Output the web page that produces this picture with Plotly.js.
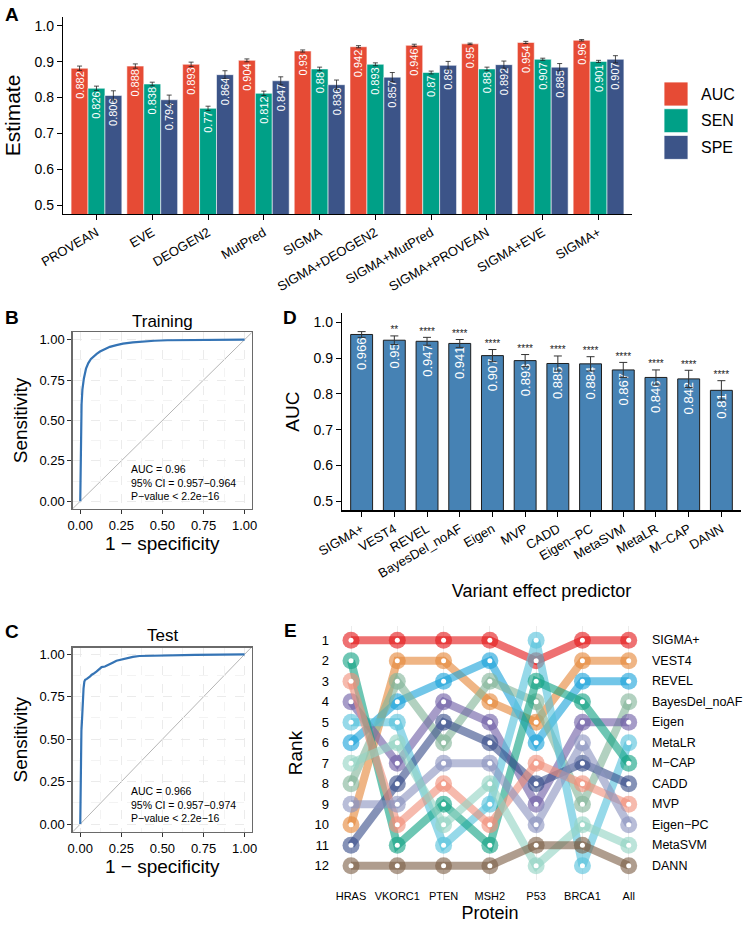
<!DOCTYPE html>
<html>
<head>
<meta charset="utf-8">
<script src="https://cdn.plot.ly/plotly-3.0.1.min.js"></script>
<style>
  body { margin: 0; background: #fff; }
  #fig { width: 747px; height: 927px; }
</style>
</head>
<body>
<div id="fig"></div>
<script>
// ---- panel A: combined predictors ----
const methodsA = ["PROVEAN", "EVE", "DEOGEN2", "MutPred", "SIGMA", "SIGMA+DEOGEN2", "SIGMA+MutPred", "SIGMA+PROVEAN", "SIGMA+EVE", "SIGMA+"]
const metricNames = ["AUC", "SEN", "SPE"]
const metricColors = ["#E64B35", "#00A087", "#3C5488"]
const aucA = [0.882, 0.888, 0.893, 0.904, 0.93, 0.942, 0.946, 0.95, 0.954, 0.96]
const senA = [0.826, 0.838, 0.77, 0.812, 0.88, 0.893, 0.87, 0.88, 0.907, 0.901]
const speA = [0.806, 0.794, 0.864, 0.847, 0.836, 0.857, 0.89, 0.892, 0.885, 0.907]
const aucErrA = [0.006, 0.006, 0.006, 0.004, 0.003, 0.003, 0.003, 0.002, 0.003, 0.002]
const senErrA = [0.006, 0.005, 0.006, 0.006, 0.005, 0.004, 0.004, 0.005, 0.003, 0.003]
const speErrA = [0.013, 0.013, 0.011, 0.011, 0.013, 0.013, 0.011, 0.01, 0.01, 0.01]

// ---- panels B, C: ROC curves ----
const trainFpr = [0, 0.002, 0.005, 0.008, 0.013, 0.022, 0.035, 0.049, 0.065, 0.079, 0.1, 0.12, 0.15, 0.18, 0.22, 0.26, 0.32, 0.38, 0.45, 0.53, 0.65, 0.8, 1]
const trainTpr = [0, 0.2, 0.42, 0.6, 0.69, 0.76, 0.82, 0.855, 0.88, 0.895, 0.912, 0.926, 0.942, 0.955, 0.966, 0.975, 0.983, 0.989, 0.993, 0.996, 0.998, 0.999, 1]
const testFpr = [0, 0.001, 0.003, 0.004, 0.007, 0.01, 0.013, 0.016, 0.02, 0.025, 0.03, 0.04, 0.05, 0.06, 0.07, 0.08, 0.1, 0.12, 0.13, 0.15, 0.18, 0.2, 0.22, 0.25, 0.28, 0.32, 0.36, 0.45, 0.53, 0.7, 1]
const testTpr = [0, 0.2, 0.38, 0.45, 0.55, 0.6, 0.7, 0.75, 0.8, 0.84, 0.85, 0.855, 0.86, 0.87, 0.88, 0.885, 0.9, 0.915, 0.925, 0.928, 0.94, 0.952, 0.962, 0.97, 0.978, 0.985, 0.99, 0.993, 0.995, 0.997, 1]
const trainStats = "AUC = 0.96<br>95% CI = 0.957−0.964<br>P−value < 2.2e−16"
const testStats = "AUC = 0.966<br>95% CI = 0.957−0.974<br>P−value < 2.2e−16"

// ---- panel D: AUC of predictors ----
const predictorsD = ["SIGMA+", "VEST4", "REVEL", "BayesDel_noAF", "Eigen", "MVP", "CADD", "Eigen−PC", "MetaSVM", "MetaLR", "M−CAP", "DANN"]
const aucD = [0.966, 0.95, 0.947, 0.941, 0.907, 0.893, 0.885, 0.884, 0.867, 0.846, 0.842, 0.81]
const aucErrD = [0.008, 0.012, 0.011, 0.011, 0.017, 0.017, 0.021, 0.02, 0.021, 0.021, 0.024, 0.027]
const starsD = ["", "**", "****", "****", "****", "****", "****", "****", "****", "****", "****", "****"]

// ---- panel E: ranks per protein ----
const proteins = ["HRAS", "VKORC1", "PTEN", "MSH2", "P53", "BRCA1", "All"]
const predictorsE = ["SIGMA+", "VEST4", "REVEL", "BayesDel_noAF", "Eigen", "MetaLR", "M−CAP", "CADD", "MVP", "Eigen−PC", "MetaSVM", "DANN"]
const colorsE = ["227,26,28", "229,136,58", "27,163,218", "131,181,154", "111,95,166", "86,193,219", "19,163,132", "58,79,139", "240,144,122", "140,149,192", "147,211,195", "126,97,72"]
const ranksE = [
  [1, 1, 1, 1, 2, 1, 1],
  [10, 2, 2, 4, 5, 2, 2],
  [6, 4, 3, 2, 6, 3, 3],
  [8, 3, 6, 3, 4, 9, 4],
  [4, 7, 4, 5, 9, 5, 5],
  [5, 5, 11, 9, 1, 12, 6],
  [2, 11, 9, 11, 3, 4, 7],
  [11, 8, 5, 6, 8, 7, 8],
  [3, 10, 8, 10, 7, 8, 9],
  [9, 9, 7, 7, 10, 6, 10],
  [7, 6, 10, 8, 12, 10, 11],
  [12, 12, 12, 12, 11, 11, 12],
]

const FONT = "Liberation Sans, Arial, Helvetica, sans-serif"
const W = 747
const H = 927
const px = (x) => x / W
const py = (y) => 1 - y / H

const data = []

// A
const seriesA = [aucA, senA, speA]
const errA = [aucErrA, senErrA, speErrA]
seriesA.forEach((vals, i) => {
  data.push({
    type: "bar",
    x: methodsA,
    y: vals,
    name: metricNames[i],
    xaxis: "x",
    yaxis: "y",
    marker: { color: metricColors[i], line: { color: "rgba(255,255,255,0.7)", width: 0.8 } },
    text: vals.map(String),
    textposition: "inside",
    insidetextanchor: "end",
    textangle: -90,
    textfont: { color: "#ffffff", size: 11, family: FONT },
    constraintext: "none",
    error_y: { type: "data", array: errA[i], color: "#222", thickness: 0.8, width: 2.5 },
    hoverinfo: "skip",
  })
})

// B, C
const rocs = [
  [trainFpr, trainTpr, "x2", "y2"],
  [testFpr, testTpr, "x3", "y3"],
]
rocs.forEach(([fx, ty, xa, ya]) => {
  data.push({
    type: "scatter",
    mode: "lines",
    x: fx,
    y: ty,
    xaxis: xa,
    yaxis: ya,
    line: { color: "#3574B5", width: 2.2, shape: "linear" },
    hoverinfo: "skip",
  })
})

// D
data.push({
  type: "bar",
  x: predictorsD,
  y: aucD,
  xaxis: "x4",
  yaxis: "y4",
  width: 0.67,
  marker: { color: "#4682B4", line: { color: "#1e1e1e", width: 1 } },
  text: aucD.map(String),
  textposition: "inside",
  insidetextanchor: "end",
  textangle: -90,
  textfont: { color: "#ffffff", size: 13, family: FONT },
  constraintext: "none",
  error_y: { type: "data", array: aucErrD, color: "#333", thickness: 1, width: 4 },
  hoverinfo: "skip",
})
data.push({
  type: "scatter",
  mode: "text",
  x: predictorsD,
  y: aucD.map((v, i) => v + aucErrD[i] + 0.014),
  text: starsD,
  textposition: "middle center",
  textfont: { size: 10, family: FONT, color: "#222" },
  xaxis: "x4",
  yaxis: "y4",
  hoverinfo: "skip",
})

// E
ranksE.forEach((r, i) => {
  data.push({
    type: "scatter",
    mode: "lines+markers",
    x: proteins,
    y: r,
    name: predictorsE[i],
    xaxis: "x5",
    yaxis: "y5",
    line: { color: `rgba(${colorsE[i]},0.62)`, width: 8 },
    marker: { color: `rgba(${colorsE[i]},0.62)`, size: 17, line: { width: 0 } },
    hoverinfo: "skip",
  })
})
data.push({
  type: "scatter",
  mode: "markers",
  x: ranksE.flatMap(() => proteins),
  y: ranksE.flat(),
  xaxis: "x5",
  yaxis: "y5",
  marker: { color: "#ffffff", size: 5 },
  hoverinfo: "skip",
})

const blackAxis = {
  showline: true,
  linecolor: "#000",
  linewidth: 1.2,
  ticks: "outside",
  ticklen: 5,
  tickcolor: "#000",
  showgrid: false,
  zeroline: false,
}
const rocAxis = {
  showline: true,
  mirror: true,
  linecolor: "#6a6a6a",
  linewidth: 1.4,
  ticks: "outside",
  ticklen: 4,
  tickcolor: "#333",
  tickvals: [0, 0.25, 0.5, 0.75, 1],
  tickformat: ".2f",
  tickfont: { size: 13 },
  showgrid: true,
  gridcolor: "#e6e6e6",
  griddash: "dash",
  gridwidth: 0.8,
  minor: { tickvals: [0.125, 0.375, 0.625, 0.875], showgrid: true, gridcolor: "#f0f0f0", griddash: "dash", ticks: "" },
  zeroline: false,
}

const paperText = (text, x, y, size, extra = {}) => ({
  text,
  xref: "paper",
  yref: "paper",
  x: px(x),
  y: py(y),
  xanchor: "center",
  yanchor: "middle",
  showarrow: false,
  font: { size },
  ...extra,
})

const layout = {
  width: W,
  height: H,
  margin: { l: 0, r: 0, t: 0, b: 0 },
  paper_bgcolor: "#fff",
  plot_bgcolor: "#fff",
  showlegend: false,
  font: { family: FONT, color: "#000" },
  barmode: "group",
  bargap: 0.09,
  bargroupgap: 0,
  xaxis: { ...blackAxis, domain: [px(63), px(632)], range: [-0.6, 9.6], tickangle: -30, tickfont: { size: 13 }, anchor: "y" },
  yaxis: {
    ...blackAxis,
    domain: [py(214), py(17)],
    range: [0.475, 1.025],
    dtick: 0.1,
    tickformat: ".1f",
    tickfont: { size: 14 },
    title: { text: "Estimate", font: { size: 21 }, standoff: 8 },
    anchor: "x",
  },
  xaxis2: { ...rocAxis, domain: [px(72.7), px(251.7)], range: [-0.046, 1.043], anchor: "y2", title: { text: "1 − specificity", font: { size: 19 }, standoff: 2 } },
  yaxis2: { ...rocAxis, domain: [py(509), py(332)], range: [-0.048, 1.047], anchor: "x2", title: { text: "Sensitivity", font: { size: 19 }, standoff: 6 } },
  xaxis3: { ...rocAxis, domain: [px(72.7), px(251.7)], range: [-0.046, 1.043], anchor: "y3", title: { text: "1 − specificity", font: { size: 19 }, standoff: 2 } },
  yaxis3: { ...rocAxis, domain: [py(831.7), py(647.7)], range: [-0.045, 1.039], anchor: "x3", title: { text: "Sensitivity", font: { size: 19 }, standoff: 6 } },
  xaxis4: {
    ...blackAxis,
    domain: [px(342), px(741)],
    range: [-0.6, 11.6],
    tickangle: -30,
    tickfont: { size: 13 },
    anchor: "y4",
    title: { text: "Variant effect predictor", font: { size: 18 }, standoff: 0 },
  },
  yaxis4: {
    ...blackAxis,
    domain: [py(510.3), py(313)],
    range: [0.475, 1.026],
    dtick: 0.1,
    tickformat: ".1f",
    tickfont: { size: 14 },
    anchor: "x4",
    title: { text: "AUC", font: { size: 19 }, standoff: 8 },
  },
  xaxis5: {
    domain: [px(330), px(650)],
    range: [-0.454, 6.46],
    anchor: "y5",
    showline: false,
    zeroline: false,
    showgrid: true,
    gridcolor: "#ececec",
    gridwidth: 1,
    ticks: "",
    ticklabelstandoff: 8,
    tickfont: { size: 11 },
    title: { text: "Protein", font: { size: 18 }, standoff: 5 },
  },
  yaxis5: {
    domain: [py(880), py(626)],
    range: [12.7, 0.3],
    anchor: "x5",
    showline: false,
    zeroline: false,
    showgrid: false,
    ticks: "",
    tickvals: predictorsE.map((_, i) => i + 1),
    tickfont: { size: 13 },
    title: { text: "Rank", font: { size: 19 }, standoff: 6 },
  },
  shapes: [
    { type: "line", xref: "x2", yref: "y2", x0: -0.05, y0: -0.05, x1: 1.05, y1: 1.05, line: { color: "#b5b5b5", width: 1 }, layer: "below" },
    { type: "line", xref: "x3", yref: "y3", x0: -0.05, y0: -0.05, x1: 1.05, y1: 1.05, line: { color: "#b5b5b5", width: 1 }, layer: "below" },
    ...metricNames.map((_, i) => ({
      type: "rect",
      xref: "paper",
      yref: "paper",
      x0: px(664),
      x1: px(688),
      y0: py(82 + i * 26.7 + 24),
      y1: py(82 + i * 26.7),
      fillcolor: metricColors[i],
      line: { color: "rgba(255,255,255,0.8)", width: 1 },
    })),
  ],
  annotations: [
    ...[["A", 12, 14], ["B", 12, 318], ["C", 12, 631], ["D", 290, 318], ["E", 290, 630]].map(([t, x, y]) =>
      paperText(`<b>${t}</b>`, x, y, 19)
    ),
    ...metricNames.map((m, i) => paperText(m, 699, 94 + i * 26.7, 16, { xanchor: "left" })),
    paperText("Training", 162, 321, 17),
    paperText("Test", 162, 635, 17),
    { text: trainStats, xref: "x2", yref: "y2", x: 0.296, y: 0.119, xanchor: "left", yanchor: "middle", align: "left", showarrow: false, font: { size: 10.5 } },
    { text: testStats, xref: "x3", yref: "y3", x: 0.296, y: 0.118, xanchor: "left", yanchor: "middle", align: "left", showarrow: false, font: { size: 10.5 } },
    ...predictorsE.map((p, i) => ({
      text: p,
      xref: "paper",
      yref: "y5",
      x: px(650),
      y: i + 1,
      xanchor: "left",
      yanchor: "middle",
      showarrow: false,
      font: { size: 12.5 },
    })),
  ],
}

Plotly.newPlot("fig", data, layout, { displayModeBar: false, staticPlot: true })
</script>
</body>
</html>
